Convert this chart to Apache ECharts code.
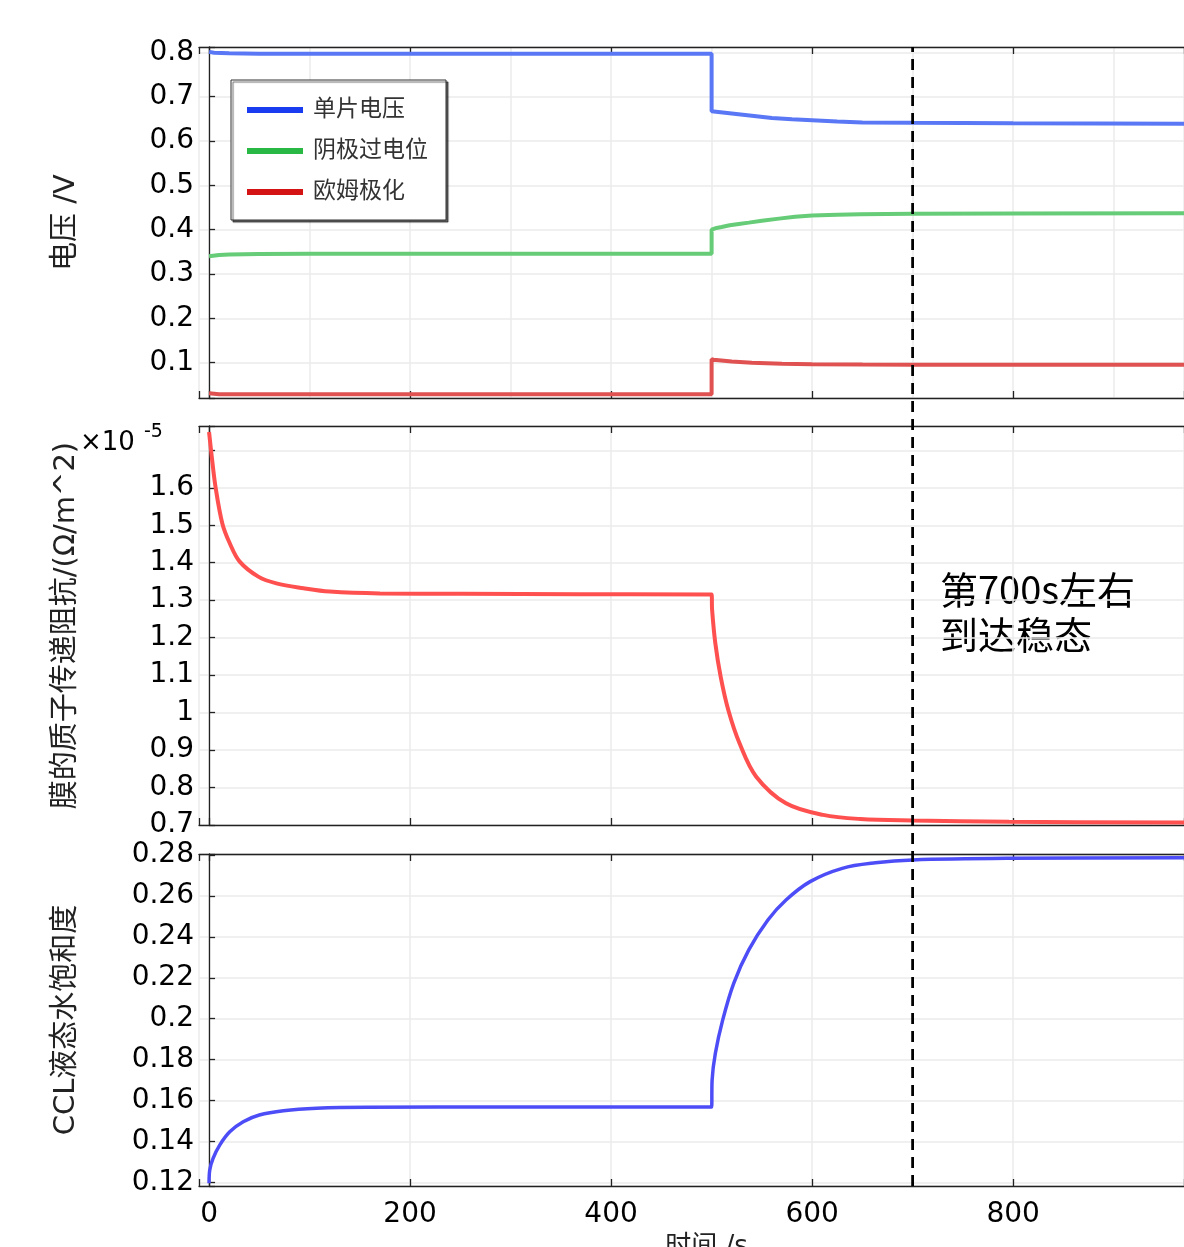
<!DOCTYPE html>
<html lang="zh">
<head>
<meta charset="UTF-8">
<title>电压、膜阻抗与液态水饱和度</title>
<script src="https://cdn.jsdelivr.net/npm/echarts@6/dist/echarts.min.js"></script>
<style>
html, body { margin: 0; padding: 0; background: #fff; }
#main { width: 1184px; height: 1247px; }
</style>
</head>
<body>
<div id="main"></div>
<script>
// 时间轴 (s)
var tMin = -10, tMax = 970;
var steadyT = 700;   // 稳态时刻

// 上图: 电压 /V
var cellT = [0, 5, 20, 50, 100, 200, 300, 400, 500, 500, 520, 540, 560, 580, 600, 625, 650, 700, 800, 970];
var cellV = [0.801, 0.799, 0.798, 0.797, 0.797, 0.797, 0.797, 0.797, 0.797, 0.667, 0.662, 0.657, 0.652, 0.649, 0.647, 0.644, 0.642, 0.641, 0.640, 0.639];

var cathT = [0, 10, 20, 50, 100, 200, 300, 400, 500, 500, 505, 510, 518, 527, 537, 550, 567, 583, 600, 625, 648, 700, 800, 970];
var cathV = [0.340, 0.343, 0.344, 0.345, 0.346, 0.346, 0.346, 0.346, 0.346, 0.400, 0.404, 0.406, 0.410, 0.413, 0.416, 0.420, 0.425, 0.429, 0.432, 0.434, 0.435, 0.436, 0.4365, 0.437];

var ohmT = [0, 10, 100, 300, 500, 500, 502, 520, 540, 570, 600, 650, 700, 800, 970];
var ohmV = [0.031, 0.029, 0.029, 0.029, 0.029, 0.108, 0.107, 0.103, 0.100, 0.098, 0.0965, 0.0958, 0.0955, 0.0954, 0.0953];

// 中图: 膜的质子传递阻抗 (×1e-5 Ω/m^2)
var memT = [0, 2.7, 6.4, 13.2, 20.6, 30.5, 49, 67, 94, 120, 170, 250, 370, 500, 500.5, 503.7, 509, 516.6, 527.8, 544.4, 574, 611, 648, 700, 796, 970];
var memV = [1.749, 1.683, 1.603, 1.505, 1.452, 1.403, 1.363, 1.345, 1.332, 1.323, 1.318, 1.317, 1.316, 1.315, 1.274, 1.185, 1.096, 1.007, 0.918, 0.829, 0.758, 0.727, 0.716, 0.712, 0.7085, 0.7067];

// 下图: CCL液态水饱和度
var satT = [0, 0.7, 4, 10.6, 20.6, 34, 50, 74, 107, 157, 300, 500, 500.5, 503.7, 511, 522, 537, 556, 574, 598, 630, 663, 700, 796, 970];
var satV = [0.1195, 0.126, 0.1317, 0.1382, 0.1447, 0.1496, 0.1529, 0.155, 0.1562, 0.1567, 0.1568, 0.1568, 0.170, 0.183, 0.1993, 0.2173, 0.2336, 0.2482, 0.258, 0.267, 0.2735, 0.2762, 0.2776, 0.2784, 0.2787];

var legendNames = ['单片电压', '阴极过电位', '欧姆极化'];
var noteText = '第700s左右\n到达稳态';

function zip(a, b) { return a.map(function (t, i) { return [t, b[i]]; }); }
function stepLabel(step, skip) {
    return function (v) {
        var k = v / step;
        if (Math.abs(k - Math.round(k)) > 1e-6) return '';
        var s = String(+v.toFixed(4));
        return (skip && skip.indexOf(s) >= 0) ? '' : s;
    };
}

var FONT = 'DejaVu Sans, Noto Sans CJK SC, sans-serif';
var axisLineStyle = { color: '#222', width: 1.3 };
var gridLine = { show: true, lineStyle: { color: '#ebebeb', width: 1.5 } };

function xBottom(grid, showLabel, name) {
    return {
        type: 'value', gridIndex: grid, min: tMin, max: tMax, splitNumber: 5, position: 'bottom',
        axisLine: { show: true, onZero: false, lineStyle: axisLineStyle },
        axisTick: { show: true, inside: true, length: 7, lineStyle: axisLineStyle },
        axisLabel: { show: showLabel, formatter: stepLabel(200), color: '#000', fontSize: 28, fontFamily: FONT, margin: 15 },
        splitLine: grid === 0 ? { show: false } : gridLine,
        name: name || '', nameLocation: 'middle', nameGap: 48,
        nameTextStyle: { fontSize: 26, color: '#222', fontFamily: FONT, padding: [0, 0, 0, 30] }
    };
}
function xTop(grid) {
    return {
        type: 'value', gridIndex: grid, min: tMin, max: tMax, splitNumber: 5, position: 'top',
        axisLine: { show: true, onZero: false, lineStyle: axisLineStyle },
        axisTick: { show: true, inside: true, length: 7, lineStyle: axisLineStyle },
        axisLabel: { show: false }, splitLine: { show: false }
    };
}
function yAxisOf(grid, min, max, split, step, name, skip) {
    return {
        type: 'value', gridIndex: grid, min: min, max: max, splitNumber: split,
        axisLine: { show: true, lineStyle: axisLineStyle },
        axisTick: { show: true, inside: true, length: 6, lineStyle: axisLineStyle },
        axisLabel: { formatter: stepLabel(step, skip), color: '#000', fontSize: 28, fontFamily: FONT, margin: 5, padding: [3, 0, 0, 0] },
        splitLine: gridLine,
        name: name, nameLocation: 'middle', nameGap: 118,
        nameTextStyle: { fontSize: 29, color: '#222', fontFamily: FONT }
    };
}

var chart = echarts.init(document.getElementById('main'), null, { renderer: 'canvas' });
chart.setOption({
    animation: false,
    backgroundColor: '#fff',
    grid: [
        { left: 199, right: 0, top: 47, height: 351, outerBoundsMode: 'none' },
        { left: 199, right: 0, top: 426, height: 399, outerBoundsMode: 'none' },
        { left: 199, right: 0, top: 854, height: 332, outerBoundsMode: 'none' },
        { left: 199, right: 0, top: 47, height: 1139, outerBoundsMode: 'none' }
    ],
    xAxis: [
        xBottom(0, false), xTop(0),
        { type: 'value', gridIndex: 0, min: tMin, max: tMax, splitNumber: 10, show: true,
          axisLine: { show: false }, axisTick: { show: false }, axisLabel: { show: false }, splitLine: gridLine },
        xBottom(1, false), xTop(1),
        xBottom(2, true, '时间 /s'), xTop(2),
        { type: 'value', gridIndex: 3, min: tMin, max: tMax, show: false }
    ],
    yAxis: [
        yAxisOf(0, 0.0205, 0.812, 8, 0.1, '电压 /V'),
        yAxisOf(1, 0.7, 1.765, 11, 0.1, '膜的质子传递阻抗/(Ω/m^2)', ['1.7']),
        yAxisOf(2, 0.1182, 0.2805, 8, 0.02, 'CCL液态水饱和度'),
        { type: 'value', gridIndex: 3, min: 0, max: 1, show: false }
    ],
    legend: {
        data: legendNames,
        orient: 'vertical', left: 231, top: 80,
        icon: 'rect', itemWidth: 56, itemHeight: 6, itemGap: 17,
        padding: [18, 18, 16, 16],
        backgroundColor: '#fff', borderColor: '#333', borderWidth: 1,
        shadowColor: 'rgba(0,0,0,0.6)', shadowOffsetX: 2, shadowOffsetY: 2, shadowBlur: 1,
        textStyle: { fontSize: 23, lineHeight: 24, color: '#333', fontFamily: FONT, padding: [0, 0, 0, 5] }
    },
    graphic: [
        { type: 'text', left: 80, top: 430, style: { text: '×10', fontSize: 26, fontFamily: 'DejaVu Sans', fill: '#000' } },
        { type: 'text', left: 144, top: 423, style: { text: '-5', fontSize: 19, fontFamily: 'DejaVu Sans', fill: '#000' } },
        { type: 'text', left: 940, top: 567, style: { text: noteText, fontSize: 38, fontFamily: 'Noto Sans CJK SC', lineHeight: 45, fill: '#000' } }
    ],
    series: [
        { type: 'line', name: legendNames[0], xAxisIndex: 0, yAxisIndex: 0, data: zip(cellT, cellV), showSymbol: false,
          lineStyle: { color: '#5a78f6', width: 4 }, itemStyle: { color: '#1a3cf0' } },
        { type: 'line', name: legendNames[1], xAxisIndex: 0, yAxisIndex: 0, data: zip(cathT, cathV), showSymbol: false,
          lineStyle: { color: '#66cc77', width: 4 }, itemStyle: { color: '#2ab845' } },
        { type: 'line', name: legendNames[2], xAxisIndex: 0, yAxisIndex: 0, data: zip(ohmT, ohmV), showSymbol: false,
          lineStyle: { color: '#e05252', width: 4 }, itemStyle: { color: '#d41414' } },
        { type: 'line', name: 'mem', xAxisIndex: 3, yAxisIndex: 1, data: zip(memT, memV), showSymbol: false,
          smooth: 0.35,
          lineStyle: { color: '#ff5050', width: 4 }, itemStyle: { color: '#ff5050' } },
        { type: 'line', name: 'sat', xAxisIndex: 5, yAxisIndex: 2, data: zip(satT, satV), showSymbol: false,
          smooth: 0.35,
          lineStyle: { color: '#4d4df7', width: 3.5 }, itemStyle: { color: '#4d4df7' } },
        { type: 'line', name: 'steady', xAxisIndex: 7, yAxisIndex: 3, data: [[steadyT, 0], [steadyT, 1]], showSymbol: false,
          lineStyle: { color: '#000', width: 2.8, type: [11, 7] }, z: 5 }
    ]
});
</script>
</body>
</html>
